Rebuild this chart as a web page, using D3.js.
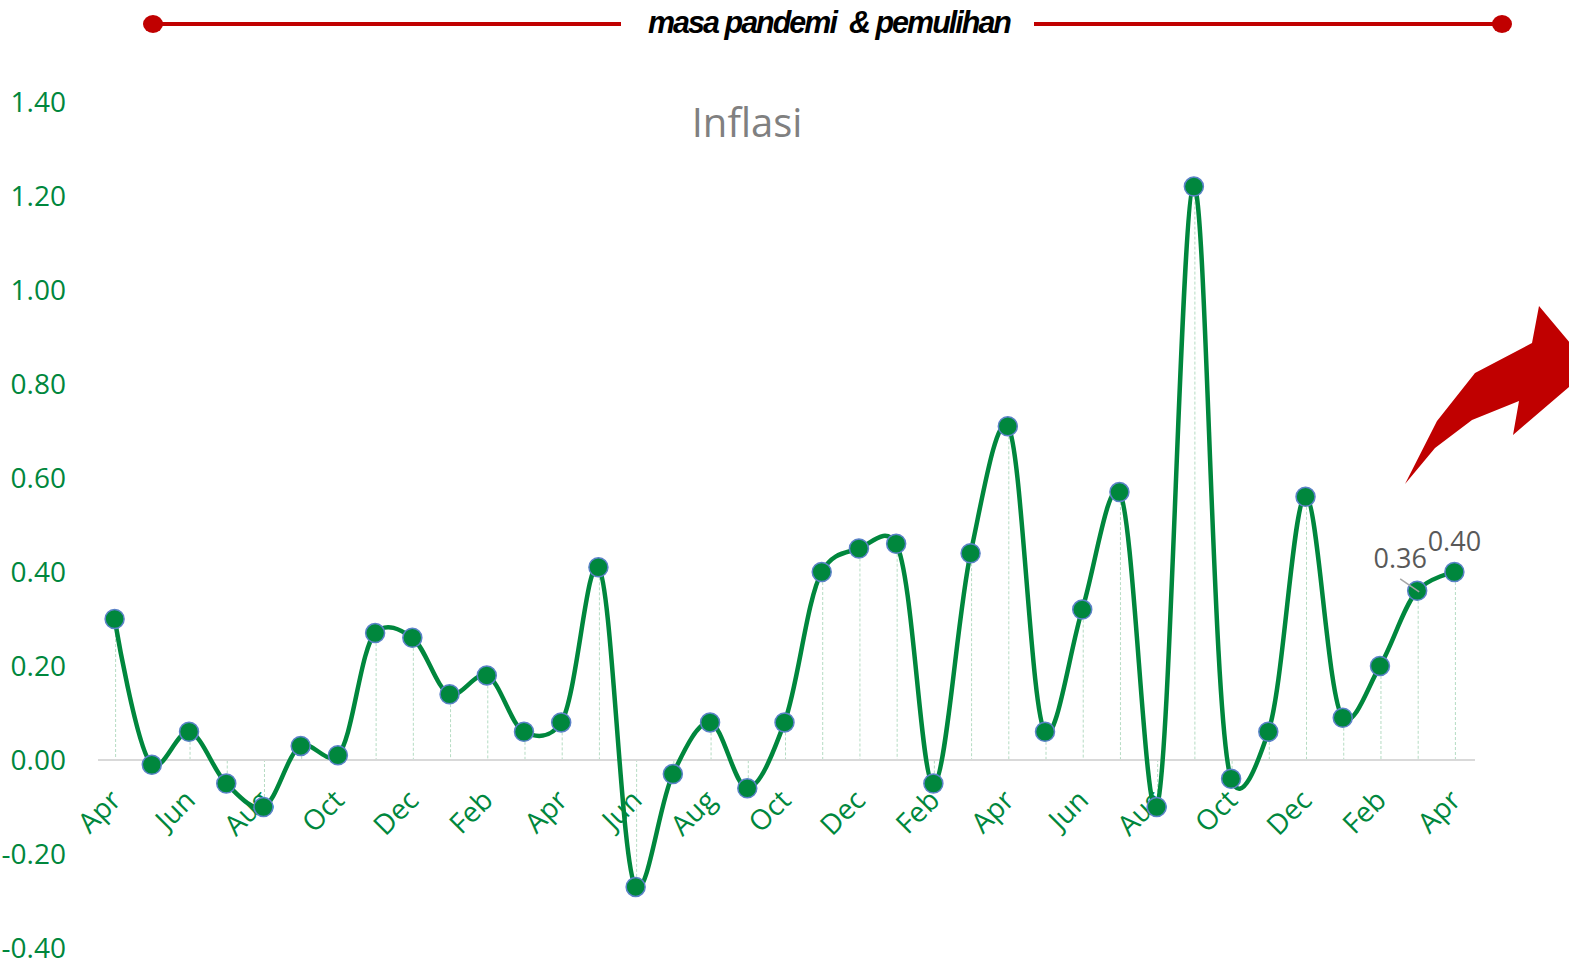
<!DOCTYPE html>
<html>
<head>
<meta charset="utf-8">
<script src="https://cdn.jsdelivr.net/npm/d3@7"></script>
<style>
  body { margin: 0; background: #fff; }
  svg { display: block; }
</style>
</head>
<body>
<div id="chart"></div>
<script>
// data (Apr 2020 .. Apr 2023)
var months = ["Apr", "May", "Jun", "Jul", "Aug", "Sep", "Oct", "Nov", "Dec",
  "Jan", "Feb", "Mar", "Apr", "May", "Jun", "Jul", "Aug", "Sep", "Oct", "Nov", "Dec",
  "Jan", "Feb", "Mar", "Apr", "May", "Jun", "Jul", "Aug", "Sep", "Oct", "Nov", "Dec",
  "Jan", "Feb", "Mar", "Apr"];
var inflasi = [0.30, -0.01, 0.06, -0.05, -0.10, 0.03, 0.01, 0.27, 0.26,
  0.14, 0.18, 0.06, 0.08, 0.41, -0.27, -0.03, 0.08, -0.06, 0.08, 0.40, 0.45,
  0.46, -0.05, 0.44, 0.71, 0.06, 0.32, 0.57, -0.10, 1.22, -0.04, 0.06, 0.56,
  0.09, 0.20, 0.36, 0.40];
var yTicks = [-0.4, -0.2, 0, 0.2, 0.4, 0.6, 0.8, 1.0, 1.2, 1.4];
var labelled = [35, 36];
var chartTitle = "Inflasi";
var bannerText = "masa pandemi  & pemulihan";

var svgWidth = 1569;
var svgHeight = 964;

var green = "#00873d";
var red = "#c00000";

// plain hyphen for negatives, like the original
var fmt = function(v) { return d3.format(".2f")(v).replace("\u2212", "-"); };

var svg = d3.select("#chart")
  .append("svg")
  .attr("width", svgWidth)
  .attr("height", svgHeight);

var idx = d3.range(inflasi.length);

// scales
var xScale = d3.scalePoint()
  .domain(idx)
  .range([96, 1473])
  .padding(0.5);

var yScale = d3.scaleLinear()
  .domain([-0.4, 1.4])
  .range([948, 102]);

// banner on top
var banner = svg.append("g");
banner.append("line")
  .attr("x1", 153).attr("x2", 621)
  .attr("y1", 24).attr("y2", 24)
  .attr("stroke", red).attr("stroke-width", 4);
banner.append("line")
  .attr("x1", 1034).attr("x2", 1502)
  .attr("y1", 24).attr("y2", 24)
  .attr("stroke", red).attr("stroke-width", 4);
banner.selectAll("ellipse")
  .data([153, 1502])
  .enter()
  .append("ellipse")
  .attr("cx", d => d)
  .attr("cy", 24)
  .attr("rx", 10)
  .attr("ry", 9)
  .attr("fill", red);
banner.append("text")
  .attr("x", 648)
  .attr("y", 33)
  .attr("textLength", 362)
  .attr("lengthAdjust", "spacingAndGlyphs")
  .attr("font-family", "Liberation Sans, Arial, sans-serif")
  .attr("font-weight", "bold")
  .attr("font-style", "italic")
  .attr("font-size", 31)
  .attr("letter-spacing", -2)
  .attr("fill", "#000")
  .style("white-space", "pre")
  .text(bannerText);

// title
svg.append("text")
  .attr("x", 747)
  .attr("y", 137)
  .attr("text-anchor", "middle")
  .attr("font-family", "Open Sans, sans-serif")
  .attr("font-size", 40)
  .attr("fill", "#808080")
  .text(chartTitle);

// y axis labels (no axis line)
var yAxis = d3.axisLeft(yScale)
  .tickValues(yTicks)
  .tickFormat(fmt)
  .tickSize(0)
  .tickPadding(0);

var yAxisG = svg.append("g")
  .attr("transform", "translate(66, 0)")
  .call(yAxis);
yAxisG.select(".domain").remove();
yAxisG.selectAll("text")
  .attr("font-family", "Open Sans, sans-serif")
  .attr("font-size", 28)
  .attr("fill", green)
  .attr("dy", "0.34em");

// drop lines
svg.append("g")
  .selectAll("line")
  .data(idx)
  .enter()
  .append("line")
  .attr("x1", d => xScale(d) + 1)
  .attr("x2", d => xScale(d) + 1)
  .attr("y1", d => yScale(inflasi[d]))
  .attr("y2", yScale(0))
  .attr("stroke", "#b5dcc3")
  .attr("stroke-width", 1)
  .attr("stroke-dasharray", "3,2");

// category axis line
svg.append("line")
  .attr("x1", xScale.range()[0] + 2)
  .attr("x2", xScale.range()[1] + 2)
  .attr("y1", yScale(0))
  .attr("y2", yScale(0))
  .attr("stroke", "#d9d9d9")
  .attr("stroke-width", 2);

// x labels, every second month, rotated
svg.append("g")
  .selectAll("text")
  .data(idx.filter(d => d % 2 === 0))
  .enter()
  .append("text")
  .attr("transform", d => `translate(${xScale(d) + 1}, ${yScale(0) + 35}) rotate(-45)`)
  .attr("text-anchor", "end")
  .attr("dy", "0.35em")
  .attr("font-family", "Open Sans, sans-serif")
  .attr("font-size", 28)
  .attr("fill", green)
  .text(d => months[d]);

// smoothed line
var line = d3.line()
  .x(d => xScale(d))
  .y(d => yScale(inflasi[d]))
  .curve(d3.curveCatmullRom.alpha(0.25));

svg.append("path")
  .datum(idx)
  .attr("d", line)
  .attr("fill", "none")
  .attr("stroke", green)
  .attr("stroke-width", 4.5);

// markers
svg.append("g")
  .selectAll("circle")
  .data(idx)
  .enter()
  .append("circle")
  .attr("cx", d => xScale(d))
  .attr("cy", d => yScale(inflasi[d]))
  .attr("r", 9.5)
  .attr("fill", green)
  .attr("stroke", "#5b82c8")
  .attr("stroke-width", 1.5);

// data labels on the last two points
var labelOffsets = { 35: [-17, -23], 36: [0, -21] };
svg.append("line")
  .attr("x1", xScale(35) - 17)
  .attr("y1", yScale(inflasi[35]) - 12)
  .attr("x2", xScale(35) + 2)
  .attr("y2", yScale(inflasi[35]) + 1)
  .attr("stroke", "#a6a6a6")
  .attr("stroke-width", 1.5);
svg.append("g")
  .selectAll("text")
  .data(labelled)
  .enter()
  .append("text")
  .attr("x", d => xScale(d) + labelOffsets[d][0])
  .attr("y", d => yScale(inflasi[d]) + labelOffsets[d][1])
  .attr("text-anchor", "middle")
  .attr("font-family", "Open Sans, sans-serif")
  .attr("font-size", 27)
  .attr("fill", "#595959")
  .text(d => fmt(inflasi[d]));

// red arrow on the right edge
var arrowPts = [[1405, 484], [1437, 421], [1475, 373], [1532, 343], [1539, 306],
  [1591, 368], [1513, 435], [1519, 401], [1472, 420], [1435, 448]];
svg.append("polygon")
  .attr("points", arrowPts.map(p => p.join(",")).join(" "))
  .attr("fill", red);
</script>
</body>
</html>
